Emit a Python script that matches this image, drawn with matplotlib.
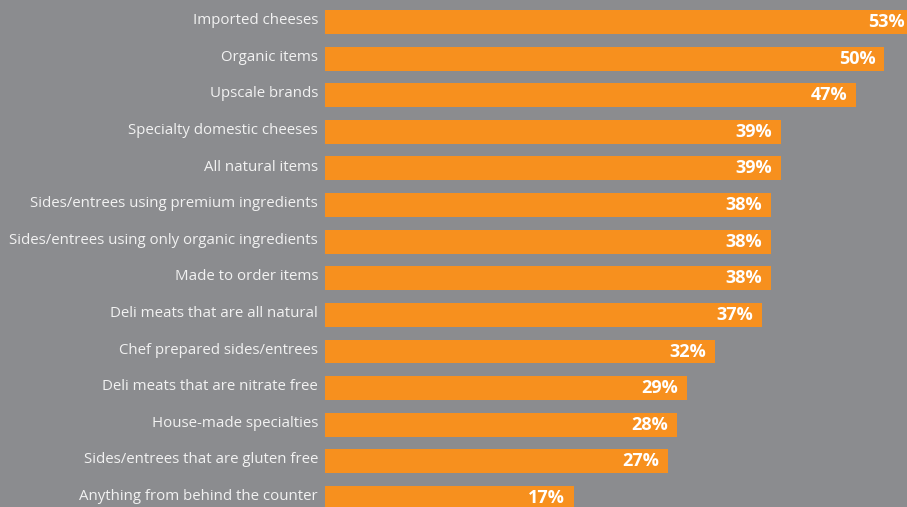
import matplotlib.pyplot as plt

# Data
items = [
    "Imported cheeses",
    "Organic items",
    "Upscale brands",
    "Specialty domestic cheeses",
    "All natural items",
    "Sides/entrees using premium ingredients",
    "Sides/entrees using only organic ingredients",
    "Made to order items",
    "Deli meats that are all natural",
    "Chef prepared sides/entrees",
    "Deli meats that are nitrate free",
    "House-made specialties",
    "Sides/entrees that are gluten free",
    "Anything from behind the counter",
]
shares = [53, 50, 47, 39, 39, 38, 38, 38, 37, 32, 29, 28, 27, 17]

bg = '#8b8c8f'
orange = '#f7901e'
base = -9.4
xmax = 52.4

plt.rcParams['font.family'] = ['Open Sans', 'DejaVu Sans']

fig = plt.figure(figsize=(9.07, 5.07), dpi=100, facecolor=bg)
ax = fig.add_axes([325 / 907, 0, 1 - 325 / 907, 1])
ax.set_facecolor(bg)

ypos = list(range(len(items)))
widths = [v - base for v in shares]
ax.barh(ypos, widths, left=base, height=0.655, color=orange)

ax.set_xlim(base, xmax)
ax.set_ylim(13.246, -0.598)
ax.axis('off')

# Category labels to the left of the bars
for y, name in zip(ypos, items):
    ax.annotate(name, xy=(base, y), xytext=(-5, 1), textcoords='offset points',
                ha='right', va='center', fontsize=10.8, color='#f2f2f2',
                annotation_clip=False)

# Value labels inside the bar ends
for y, v in zip(ypos, shares):
    if v > xmax:
        x, off = xmax, -1.5
    else:
        x, off = v, -6.5
    ax.annotate(f"{v}%", xy=(x, y), xytext=(off, 0), textcoords='offset points',
                ha='right', va='center', fontsize=13, fontweight='bold',
                color='white')

fig.savefig("out.png", dpi=100, facecolor=bg)
